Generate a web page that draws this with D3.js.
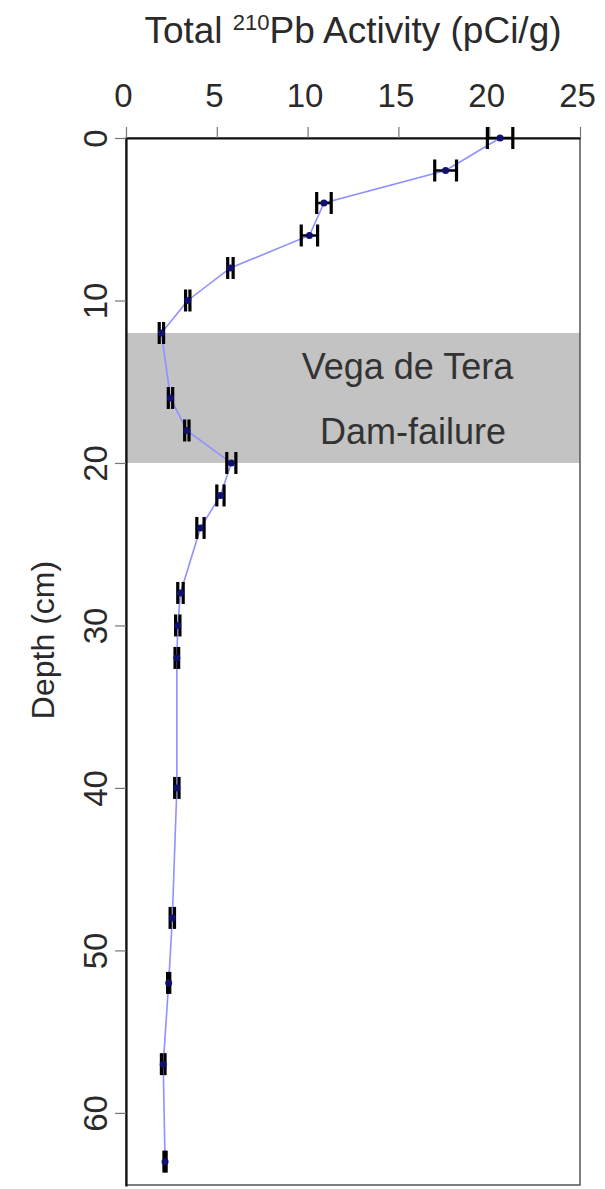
<!DOCTYPE html>
<html>
<head>
<meta charset="utf-8">
<script src="https://cdn.jsdelivr.net/npm/d3@7"></script>
<style>
  body { margin: 0; background: #fff; }
  svg { display: block; font-family: "Liberation Sans", Arial, sans-serif; }
</style>
</head>
<body>
<svg id="pb-profile"></svg>
<script>
// core depth (cm), total 210Pb activity (pCi/g) and its error
const depths = [0, 2, 4, 6, 8, 10, 12, 16, 18, 20, 22, 24, 28, 30, 32, 40, 48, 52, 57, 63];
const activity = [20.6, 17.6, 10.9, 10.1, 5.75, 3.4, 1.95, 2.45, 3.35, 5.8, 5.2, 4.1, 3.0, 2.85, 2.8, 2.8, 2.55, 2.35, 2.05, 2.15];
const errors = [0.7, 0.6, 0.4, 0.45, 0.15, 0.12, 0.12, 0.12, 0.12, 0.25, 0.2, 0.2, 0.15, 0.12, 0.1, 0.12, 0.12, 0.06, 0.1, 0.06];

const xTicks = [0, 5, 10, 15, 20, 25];
const yTicks = [0, 10, 20, 30, 40, 50, 60];

// dam-failure layer
const bandDepths = [12, 20];
const bandLabels = ["Vega de Tera", "Dam-failure"];
const bandLabelX = [15.5, 15.8];
const bandLabelDepth = [14.85, 18.85];

const width = 605;
const height = 1189;
const margin = { left: 126, right: 25, top: 138, bottom: 3 };

const data = depths.map((d, i) => ({ depth: d, value: activity[i], err: errors[i] }));

const x = d3.scaleLinear()
  .domain([0, 25])
  .range([margin.left, width - margin.right]);

const y = d3.scaleLinear()
  .domain([0, 64.5])
  .range([margin.top, height - margin.bottom]);

const svg = d3.select("#pb-profile")
  .attr("width", width)
  .attr("height", height);

// grey band
svg.append("rect")
  .attr("x", x(0))
  .attr("y", y(bandDepths[0]))
  .attr("width", x(25) - x(0))
  .attr("height", y(bandDepths[1]) - y(bandDepths[0]))
  .attr("fill", "#c3c3c3");

svg.append("g")
  .selectAll("text")
  .data(bandLabels)
  .join("text")
  .attr("x", (d, i) => x(bandLabelX[i]))
  .attr("y", (d, i) => y(bandLabelDepth[i]))
  .attr("text-anchor", "middle")
  .attr("font-size", 36)
  .attr("fill", "#333")
  .text((d) => d);

// frame (right + bottom)
svg.append("rect")
  .attr("x", x(0))
  .attr("y", y(0))
  .attr("width", x(25) - x(0))
  .attr("height", y(64.5) - y(0) - 1)
  .attr("fill", "none")
  .attr("stroke", "#555")
  .attr("stroke-width", 1.5);

// axes
const xAxis = svg.append("g")
  .attr("transform", `translate(0,${margin.top})`)
  .call(d3.axisTop(x).tickValues(xTicks).tickSize(11).tickSizeOuter(0));

const yAxis = svg.append("g")
  .attr("transform", `translate(${margin.left},0)`)
  .call(d3.axisLeft(y).tickValues(yTicks).tickSize(11).tickSizeOuter(0));

[xAxis, yAxis].forEach((g) => {
  g.select(".domain").attr("stroke", "#111").attr("stroke-width", 2.2);
  g.selectAll(".tick line").attr("stroke", "#777").attr("stroke-width", 1.2);
  g.selectAll(".tick text")
    .attr("font-size", 33)
    .attr("fill", "#2a2a2a")
    .attr("font-family", "Liberation Sans, Arial, sans-serif");
});

xAxis.selectAll(".tick text").attr("y", -31).attr("dx", -3);

yAxis.selectAll(".tick text")
  .attr("x", null)
  .attr("dy", null)
  .attr("text-anchor", "middle")
  .attr("transform", "translate(-19,0) rotate(-90)");

// profile line
svg.append("path")
  .datum(data)
  .attr("fill", "none")
  .attr("stroke", "#9090ff")
  .attr("stroke-width", 1.6)
  .attr("d", d3.line().x((d) => x(d.value)).y((d) => y(d.depth)));

// error bars
const bars = svg.append("g")
  .attr("stroke", "#000")
  .selectAll("g")
  .data(data)
  .join("g");

bars.append("line")
  .attr("x1", (d) => x(d.value - d.err))
  .attr("x2", (d) => x(d.value + d.err))
  .attr("y1", (d) => y(d.depth))
  .attr("y2", (d) => y(d.depth))
  .attr("stroke-width", 2.5);

bars.selectAll(".cap")
  .data((d) => [d.value - d.err, d.value + d.err].map((v) => ({ v, depth: d.depth })))
  .join("line")
  .attr("class", "cap")
  .attr("x1", (d) => x(d.v))
  .attr("x2", (d) => x(d.v))
  .attr("y1", (d) => y(d.depth) - 11)
  .attr("y2", (d) => y(d.depth) + 11)
  .attr("stroke-width", 3.2);

svg.append("g")
  .selectAll("circle")
  .data(data)
  .join("circle")
  .attr("cx", (d) => x(d.value))
  .attr("cy", (d) => y(d.depth))
  .attr("r", 3.5)
  .attr("fill", "#10106e");

// titles
const title = svg.append("text")
  .attr("x", (x(0) + x(25)) / 2)
  .attr("y", 43)
  .attr("text-anchor", "middle")
  .attr("font-size", 37)
  .attr("fill", "#2a2a2a");
title.append("tspan").text("Total ");
title.append("tspan").attr("font-size", 22).attr("dy", -13).text("210");
title.append("tspan").attr("dy", 13).text("Pb Activity (pCi/g)");

svg.append("text")
  .attr("transform", `translate(54,${640}) rotate(-90)`)
  .attr("text-anchor", "middle")
  .attr("font-size", 32)
  .attr("fill", "#2a2a2a")
  .text("Depth (cm)");
</script>
</body>
</html>
